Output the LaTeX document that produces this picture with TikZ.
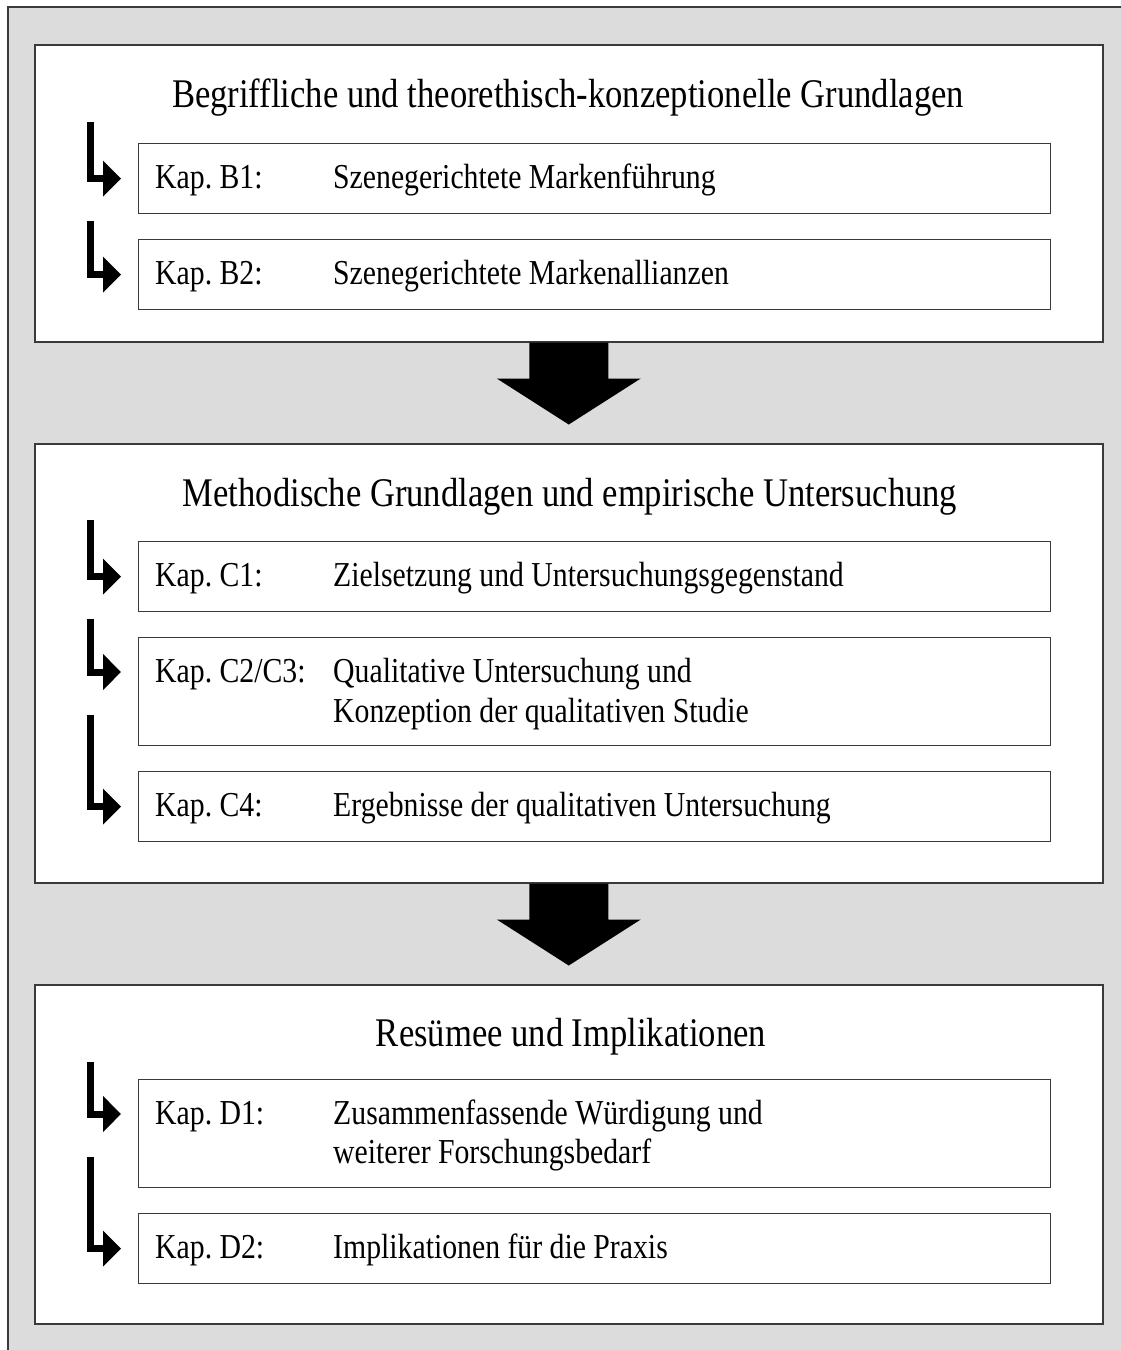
\documentclass[tikz,border=0pt]{standalone}
\usepackage{fontspec}
\setmainfont[FakeStretch=0.85]{Liberation Serif}
\usetikzlibrary{arrows.meta,calc}
\definecolor{bggray}{HTML}{DCDCDD}
\definecolor{edge}{HTML}{3A3A3A}
\frenchspacing
\begin{document}
\begin{tikzpicture}[x=1pt,y=-1pt,
  panel/.style={draw=edge,line width=1.5pt,fill=white,anchor=north west,minimum width=1068pt,inner sep=0pt},
  item/.style={draw=edge,line width=1.3pt,fill=white,anchor=north west,minimum width=912pt,inner sep=0pt},
  ttl/.style={anchor=base,font=\fontsize{40.7}{48}\selectfont,inner sep=0pt},
  lbl/.style={anchor=base west,font=\fontsize{35}{40}\selectfont,inner sep=0pt},
  bent/.style={line width=7pt,line join=miter,line cap=butt,-{Triangle[width=35pt,length=18pt]}},
  big/.style={fill=black}]
\useasboundingbox (0,0) rectangle (1121,1350);
\clip (0,0) rectangle (1121,1350);
\fill[bggray] (8,7) rectangle (1130,1360);
\draw[edge,line width=1.5pt] (8,1360) -- (8,7) -- (1130,7);
% panels
\node[panel,minimum height=297pt] (p1) at (34,44) {};
\node[panel,minimum height=439pt] (p2) at (34,443) {};
\node[panel,minimum height=339pt] (p3) at (34,984) {};
% titles
\node[ttl] (t1) at (568,107) {Begriffliche und theorethisch-konzeptionelle Grundlagen};
\node[ttl] (t2) at (570,506) {Methodische Grundlagen und empirische Untersuchung};
\node[ttl] (t3) at (571,1046) {Resümee und Implikationen};
% item boxes
\node[item,minimum height=70pt] (B1) at (138,143) {};
\node[item,minimum height=70pt] (B2) at (138,239) {};
\node[item,minimum height=70pt] (C1) at (138,541) {};
\node[item,minimum height=108pt] (C2) at (138,637) {};
\node[item,minimum height=70pt] (C4) at (138,771) {};
\node[item,minimum height=108pt] (D1) at (138,1079) {};
\node[item,minimum height=70pt] (D2) at (138,1213) {};
% labels
\node[lbl] (lB1) at (155,188) {Kap. B1:};
\node[lbl] (xB1) at (333,188) {Szenegerichtete Markenführung};
\node[lbl] (lB2) at (155,284) {Kap. B2:};
\node[lbl] (xB2) at (333,284) {Szenegerichtete Markenallianzen};
\node[lbl] (lC1) at (155,586) {Kap. C1:};
\node[lbl] (xC1) at (333,586) {Zielsetzung und Untersuchungsgegenstand};
\node[lbl] (lC2) at (155,682) {Kap. C2/C3:};
\node[lbl] (xC2a) at (333,682) {Qualitative Untersuchung und};
\node[lbl] (xC2b) at (333,722) {Konzeption der qualitativen Studie};
\node[lbl] (lC4) at (155,816) {Kap. C4:};
\node[lbl] (xC4) at (333,816) {Ergebnisse der qualitativen Untersuchung};
\node[lbl] (lD1) at (155,1124) {Kap. D1:};
\node[lbl] (xD1a) at (333,1124) {Zusammenfassende Würdigung und};
\node[lbl] (xD1b) at (333,1163) {weiterer Forschungsbedarf};
\node[lbl] (lD2) at (155,1258) {Kap. D2:};
\node[lbl] (xD2) at (333,1258) {Implikationen für die Praxis};
% bent arrows
\coordinate (aB1) at (90,122);
\coordinate (aB2) at (90,221);
\coordinate (aC1) at (90,520);
\coordinate (aC2) at (90,619);
\coordinate (aC4) at (90,715);
\coordinate (aD1) at (90,1062);
\coordinate (aD2) at (90,1157);
\draw[bent] (aB1) |- ([xshift=-17pt]B1.west);
\draw[bent] (aB2) |- ([xshift=-17pt]B2.west);
\draw[bent] (aC1) |- ([xshift=-17pt]C1.west);
\draw[bent] (aC2) |- ($(C2.north west)+(-17,35)$);
\draw[bent] (aC4) |- ([xshift=-17pt]C4.west);
\draw[bent] (aD1) |- ($(D1.north west)+(-17,35)$);
\draw[bent] (aD2) |- ([xshift=-17pt]D2.west);
% big arrows
\fill[big] (p1.south) ++(-39.5,0) -- ++(0,36) -- ++(-32.5,0) -- ++(72,46) -- ++(72,-46) -- ++(-32.5,0) -- ++(0,-36) -- cycle;
\fill[big] (p2.south) ++(-39.5,0) -- ++(0,36) -- ++(-32.5,0) -- ++(72,46) -- ++(72,-46) -- ++(-32.5,0) -- ++(0,-36) -- cycle;
\end{tikzpicture}
\end{document}
